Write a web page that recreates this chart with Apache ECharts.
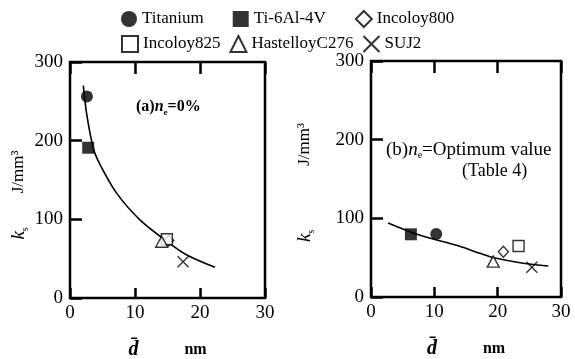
<!DOCTYPE html>
<html>
<head>
<meta charset="utf-8">
<script src="https://cdn.jsdelivr.net/npm/echarts@6/dist/echarts.min.js"></script>
<style>html,body{margin:0;padding:0;background:#fff;}#c{width:575px;height:359px;}</style>
</head>
<body>
<div id="c"></div>
<script>
// ---- data ----
const materials = ['Titanium', 'Ti-6Al-4V', 'Incoloy800', 'Incoloy825', 'HastelloyC276', 'SUJ2'];
// panel (a) ne = 0%
const dA  = [2.6, 2.8, 15.2, 14.9, 14.1, 17.4];
const ksA = [256, 191, 73, 74.7, 71.5, 46];
// panel (b) ne = optimum value
const dB  = [10.3, 6.3, 20.9, 23.3, 19.3, 25.4];
const ksB = [80, 79.7, 57.6, 64.8, 45, 37.7];
// fitted curves
const curveA_d  = [2.05, 2.6, 3.6, 4.6, 7.2, 10.8, 14.9, 17.9, 22.3];
const curveA_ks = [270, 232, 190, 170, 133, 99, 72, 55, 39];
const curveB_d  = [2.7, 7.5, 14, 17.2, 19.6, 24, 28];
const curveB_ks = [94, 79, 64.5, 55.5, 49.5, 43, 39.5];
const xTicks = [0, 10, 20, 30];
const yTicks = [0, 100, 200, 300];

const FONT = 'Liberation Serif';
const xPath = 'path://M0,0L10,10M10,0L0,10';
const symbols = ['circle', 'rect', 'diamond', 'rect', 'triangle', xPath];
const filled = [true, true, false, false, false, false];
const sizes = [[12, 12], [12, 12], [10, 11], [11, 11], [12, 11], [11, 11]];

const chart = echarts.init(document.getElementById('c'));

function grid(i) {
  const base = {show: true, borderColor: '#000', borderWidth: 2.5, backgroundColor: 'transparent',
    containLabel: false, outerBoundsMode: 'none'};
  return i === 0
    ? Object.assign({left: 70, top: 62, right: 310, bottom: 61}, base)
    : Object.assign({left: 371, top: 61, right: 14, bottom: 62}, base);
}

function xAxisBottom(i, gap) {
  return {
    type: 'value', gridIndex: i, position: 'bottom', min: xTicks[0], max: xTicks[xTicks.length - 1], interval: 10,
    axisLine: {show: false}, splitLine: {show: false},
    axisTick: {show: true, inside: true, length: 10, lineStyle: {color: '#000', width: 2.5}},
    axisLabel: {color: '#000', fontFamily: FONT, fontSize: 19, margin: 6},
    name: '{d|d\u0304}{nm|nm}', nameLocation: 'middle', nameGap: gap,
    nameTextStyle: {rich: {
      d: {fontFamily: FONT, fontStyle: 'italic', fontWeight: 'bold', fontSize: 20, color: '#000', padding: [0, 46, 0, 0]},
      nm: {fontFamily: FONT, fontWeight: 'bold', fontSize: 16, color: '#000'}
    }}
  };
}
function xAxisTop(i) {
  return {
    type: 'value', gridIndex: i, position: 'top', min: xTicks[0], max: xTicks[xTicks.length - 1], interval: 10,
    axisLine: {show: false}, splitLine: {show: false},
    axisTick: {show: true, inside: true, length: 12, lineStyle: {color: '#000', width: 2.5}},
    axisLabel: {show: false}
  };
}
function yAxis(i, gap, spacer, shift) {
  return {
    type: 'value', gridIndex: i, min: yTicks[0], max: yTicks[yTicks.length - 1], interval: 100,
    axisLine: {show: false}, splitLine: {show: false},
    axisTick: {show: true, inside: true, length: 12, lineStyle: {color: '#000', width: 2.5}},
    axisLabel: {color: '#000', fontFamily: FONT, fontSize: 19, margin: 7},
    name: '{k|k}{s|s}{sp|}{u|J/mm\u00B3}', nameLocation: 'middle', nameGap: gap, nameRotate: 90,
    nameTextStyle: {padding: [0, shift, 0, 0], rich: {
      k: {fontFamily: FONT, fontStyle: 'italic', fontSize: 19, color: '#000', lineHeight: 22, verticalAlign: 'middle'},
      s: {fontFamily: FONT, fontSize: 10, color: '#000', lineHeight: 10, verticalAlign: 'bottom'},
      sp: {width: spacer},
      u: {fontFamily: FONT, fontSize: 17, color: '#000', lineHeight: 22, verticalAlign: 'middle'}
    }}
  };
}

const series = [];
series.push({type: 'line', name: 'fitA', xAxisIndex: 0, yAxisIndex: 0, data: curveA_d.map((d, i) => [d, curveA_ks[i]]),
  smooth: 0.3, showSymbol: false, symbol: 'none', lineStyle: {color: '#000', width: 1.6}, silent: true, z: 1});
series.push({type: 'line', name: 'fitB', xAxisIndex: 2, yAxisIndex: 1, data: curveB_d.map((d, i) => [d, curveB_ks[i]]),
  smooth: 0.3, showSymbol: false, symbol: 'none', lineStyle: {color: '#000', width: 1.6}, silent: true, z: 1});

materials.forEach((m, i) => {
  const style = filled[i]
    ? {color: '#000', borderColor: '#000', borderWidth: 0}
    : {color: '#fff', borderColor: '#000', borderWidth: 1.4};
  if (i === 5) { style.color = '#000'; style.borderColor = '#000'; style.borderWidth = 1.4; }
  series.push({type: 'scatter', name: m, xAxisIndex: 0, yAxisIndex: 0, data: [[dA[i], ksA[i]]],
    symbol: symbols[i], symbolSize: sizes[i], itemStyle: style, z: 3});
  series.push({type: 'scatter', name: m, xAxisIndex: 2, yAxisIndex: 1, data: [[dB[i], ksB[i]]],
    symbol: symbols[i], symbolSize: sizes[i], itemStyle: style, z: 3});
});

const legendText = {fontFamily: FONT, fontSize: 17, color: '#000'};
const option = {
  animation: false,
  backgroundColor: '#fff',
  grid: [grid(0), grid(1)],
  xAxis: [xAxisBottom(0, 42), xAxisTop(0), xAxisBottom(1, 42), xAxisTop(1)],
  yAxis: [yAxis(0, 40, 34, 30), yAxis(1, 55, 64, 7)],
  legend: [
    {left: 121, top: 10, padding: 0, itemWidth: 16, itemHeight: 16, itemGap: 29, selectedMode: false, textStyle: legendText,
      data: [{name: 'Titanium', icon: 'circle'}, {name: 'Ti-6Al-4V', icon: 'rect'}, {name: 'Incoloy800', icon: 'diamond'}]},
    {left: 121, top: 35, padding: 0, itemWidth: 16, itemHeight: 16, itemGap: 9, selectedMode: false, textStyle: legendText,
      data: [{name: 'Incoloy825', icon: 'rect'}, {name: 'HastelloyC276', icon: 'triangle'}, {name: 'SUJ2', icon: xPath}]}
  ],
  title: [
    {left: 136, top: 97, padding: 0, text: '{a|(a)}{n|n}{e|e}{a|=0%}', textStyle: {rich: {
      a: {fontFamily: FONT, fontWeight: 'bold', fontSize: 16, color: '#000', lineHeight: 20, verticalAlign: 'middle'},
      n: {fontFamily: FONT, fontWeight: 'bold', fontStyle: 'italic', fontSize: 16, color: '#000', lineHeight: 20, verticalAlign: 'middle'},
      e: {fontFamily: FONT, fontWeight: 'bold', fontSize: 9, color: '#000', lineHeight: 9, verticalAlign: 'bottom'}
    }}},
    {left: 386, top: 140, padding: 0, text: '{a|(b)}{n|n}{e|e}{a|=Optimum value}', textStyle: {fontWeight: 'normal', rich: {
      a: {fontFamily: FONT, fontWeight: 'normal', fontSize: 19, color: '#000', lineHeight: 20, verticalAlign: 'middle'},
      n: {fontFamily: FONT, fontWeight: 'normal', fontStyle: 'italic', fontSize: 19, color: '#000', lineHeight: 20, verticalAlign: 'middle'},
      e: {fontFamily: FONT, fontWeight: 'normal', fontSize: 10, color: '#000', lineHeight: 10, verticalAlign: 'bottom'}
    }}},
    {left: 462, top: 162, padding: 0, text: '(Table 4)', textStyle: {fontFamily: FONT, fontSize: 18, fontWeight: 'normal', color: '#000'}}
  ],
  series: series
};
chart.setOption(option);
</script>
</body>
</html>
